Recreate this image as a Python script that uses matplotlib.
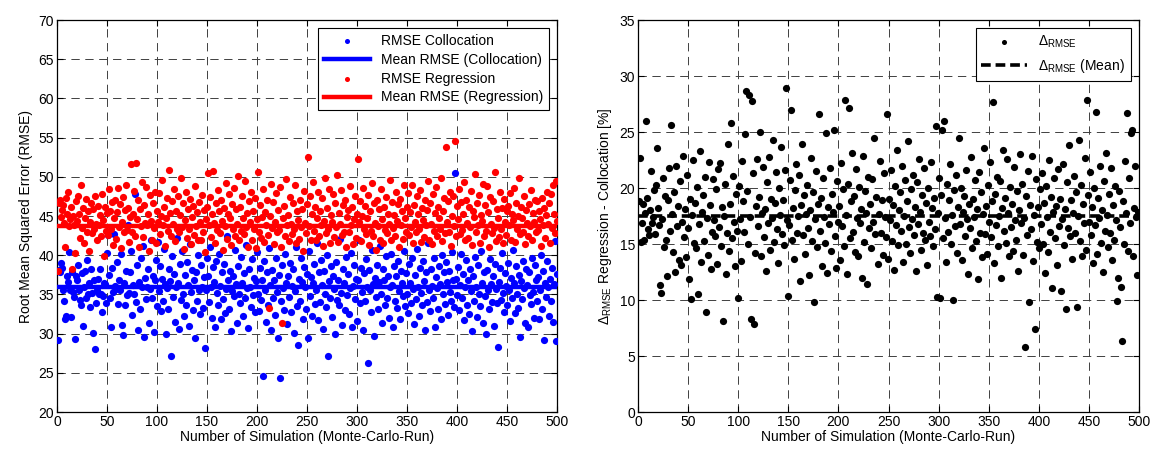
import numpy as np
import matplotlib
matplotlib.use('Agg')
import matplotlib.pyplot as plt

plt.rcParams['font.family'] = ['Liberation Sans', 'DejaVu Sans']
plt.rcParams['font.size'] = 10
plt.rcParams['mathtext.default'] = 'regular'
plt.rcParams['lines.scale_dashes'] = False

# RMSE per Monte-Carlo run (runs 1..500)
rmse_collocation = [
    29.2, 38.1, 37.9, 39.0, 38.4, 35.6, 34.2, 31.8, 32.2, 37.3,
    36.6, 40.4, 35.5, 32.1, 37.8, 35.3, 34.7, 29.3, 37.4, 36.9,
    38.8, 35.6, 34.3, 33.6, 37.7, 31.0, 35.9, 38.0, 34.5, 39.4,
    35.0, 36.4, 33.4, 38.2, 35.2, 30.1, 36.8, 28.1, 33.9, 35.5,
    37.0, 35.1, 38.3, 35.0, 32.7, 34.8, 36.5, 36.3, 33.9, 40.3,
    42.6, 37.5, 34.5, 30.8, 38.4, 35.3, 42.7, 36.1, 35.7, 39.1,
    33.8, 36.8, 35.6, 40.1, 31.1, 29.8, 36.4, 33.6, 38.0, 34.9,
    43.8, 35.2, 37.9, 40.6, 32.4, 36.2, 35.1, 47.8, 34.0, 38.8,
    30.5, 36.6, 33.2, 39.7, 35.9, 41.2, 29.6, 37.1, 34.4, 36.0,
    38.3, 31.4, 35.7, 42.0, 34.6, 37.3, 30.2, 36.9, 39.4, 33.5,
    41.7, 35.4, 38.6, 32.9, 37.0, 34.2, 40.8, 36.3, 29.9, 35.8,
    33.1, 38.2, 36.7, 27.2, 39.9, 34.7, 37.6, 31.5, 35.9, 42.2,
    36.4, 30.6, 38.9, 34.3, 40.5, 35.0, 32.3, 37.5, 33.7, 39.1,
    36.2, 31.0, 41.4, 35.3, 38.1, 33.0, 36.8, 29.4, 37.9, 34.1,
    40.0, 35.6, 32.5, 38.7, 36.0, 33.3, 37.2, 28.2, 35.5, 39.6,
    37.3, 34.0, 41.1, 35.9, 32.0, 38.5, 36.6, 30.9, 39.3, 35.2,
    33.6, 40.2, 36.1, 31.8, 37.8, 34.4, 38.9, 32.6, 35.7, 42.5,
    36.9, 33.2, 38.0, 30.3, 35.4, 37.4, 34.8, 40.7, 36.3, 31.3,
    38.6, 35.1, 33.9, 39.8, 36.5, 32.2, 37.7, 34.6, 41.3, 35.8,
    30.7, 38.2, 36.0, 33.4, 39.5, 34.9, 37.1, 32.8, 36.7, 40.4,
    35.0, 32.9, 38.4, 34.3, 36.8, 24.6, 39.2, 35.6, 31.5, 37.9,
    33.7, 40.9, 36.2, 30.4, 38.1, 34.5, 36.9, 32.4, 39.6, 35.3,
    29.5, 37.5, 24.4, 34.1, 38.8, 35.8, 33.0, 40.1, 36.4, 31.2,
    37.3, 34.7, 39.0, 32.7, 36.1, 38.3, 30.1, 35.4, 41.0, 33.5,
    28.5, 37.0, 34.2, 39.7, 36.6, 31.9, 38.5, 35.9, 33.1, 37.6,
    29.4, 40.6, 34.8, 37.2, 32.3, 36.5, 38.9, 33.8, 35.5, 41.5,
    31.7, 37.8, 34.0, 39.4, 36.2, 30.6, 38.0, 35.1, 33.4, 40.0,
    27.1, 36.7, 34.6, 38.6, 32.1, 37.4, 35.7, 30.0, 39.1, 34.3,
    36.8, 33.6, 42.1, 35.2, 31.1, 38.2, 36.4, 33.0, 39.8, 34.9,
    37.6, 32.5, 35.8, 40.3, 30.8, 36.1, 38.7, 34.4, 37.0, 31.6,
    36.9, 41.9, 33.9, 38.4, 35.3, 30.4, 37.7, 34.2, 39.5, 36.0,
    26.2, 38.1, 35.6, 32.8, 40.7, 36.3, 29.7, 37.1, 34.7, 38.8,
    33.2, 36.6, 41.2, 35.0, 31.4, 38.3, 36.8, 33.7, 39.9, 34.5,
    37.4, 32.0, 35.9, 40.2, 36.2, 30.9, 38.6, 34.1, 37.3, 33.3,
    39.2, 35.4, 31.8, 38.0, 36.5, 34.8, 40.5, 33.5, 37.7, 35.1,
    32.6, 38.9, 36.4, 33.9, 39.6, 35.7, 31.2, 37.5, 34.4, 40.8,
    36.0, 32.2, 38.4, 35.2, 33.6, 39.3, 36.7, 30.5, 37.9, 34.0,
    41.6, 35.5, 32.9, 38.2, 36.1, 34.6, 39.7, 30.8, 37.2, 35.8,
    33.1, 38.6, 36.3, 31.9, 40.0, 35.0, 37.8, 33.8, 39.1, 36.6,
    32.4, 38.0, 35.3, 34.2, 40.4, 36.9, 33.4, 50.5, 37.0, 34.9,
    38.5, 33.0, 36.2, 40.1, 34.5, 37.6, 31.7, 35.9, 39.4, 33.7,
    36.8, 32.5, 38.3, 35.4, 30.3, 37.4, 34.1, 39.8, 36.0, 32.1,
    38.7, 35.1, 33.5, 40.6, 36.5, 31.4, 37.9, 34.8, 29.9, 38.1,
    35.6, 33.2, 39.5, 36.3, 34.0, 37.3, 31.0, 38.9, 35.7, 33.9,
    28.3, 36.6, 38.4, 34.3, 40.3, 35.2, 32.8, 37.7, 36.1, 33.6,
    39.0, 35.5, 31.6, 37.1, 34.6, 40.7, 36.4, 32.6, 38.6, 35.0,
    33.3, 37.5, 29.6, 36.7, 34.4, 39.3, 35.8, 31.3, 38.2, 36.2,
    30.9, 37.8, 34.9, 33.8, 39.6, 35.3, 32.0, 38.8, 36.9, 34.2,
    37.2, 31.9, 35.6, 40.0, 33.1, 38.0, 29.2, 36.5, 34.7, 39.2,
    35.9, 32.3, 37.0, 34.1, 38.4, 31.5, 36.3, 41.8, 29.1, 37.6,
]

rmse_regression = [
    38.0, 46.7, 47.0, 44.9, 45.8, 46.4, 44.1, 41.1, 47.3, 45.2,
    48.0, 43.7, 44.6, 46.2, 38.3, 45.0, 43.9, 40.3, 46.9, 44.4,
    47.6, 45.3, 42.2, 48.9, 43.5, 46.0, 41.5, 44.8, 47.2, 43.0,
    45.6, 40.6, 44.2, 46.6, 42.8, 45.9, 43.3, 47.5, 44.0, 41.9,
    46.3, 43.8, 45.1, 42.4, 47.8, 44.5, 39.9, 46.1, 43.1, 45.4,
    42.6, 48.4, 45.7, 43.4, 46.8, 41.3, 44.7, 47.1, 42.1, 45.5,
    48.6, 43.6, 46.5, 40.9, 44.3, 47.4, 42.9, 45.8, 49.0, 43.2,
    46.0, 41.7, 44.9, 51.6, 43.0, 45.3, 48.2, 42.5, 51.8, 44.6,
    47.0, 41.0, 45.9, 43.7, 49.3, 42.3, 46.4, 44.1, 48.7, 43.9,
    45.2, 40.5, 47.7, 44.4, 42.0, 46.7, 43.5, 48.1, 41.6, 45.6,
    44.2, 47.9, 42.7, 45.0, 49.6, 43.8, 46.2, 41.2, 44.8, 47.3,
    43.1, 50.9, 45.4, 42.4, 46.9, 44.0, 48.5, 41.8, 45.7, 43.3,
    47.6, 42.9, 45.1, 49.8, 43.6, 46.6, 40.8, 44.5, 48.0, 42.2,
    45.9, 43.4, 47.2, 41.4, 44.9, 46.3, 42.6, 48.8, 43.7, 45.5,
    41.9, 46.8, 44.3, 42.0, 47.7, 43.0, 45.8, 40.4, 44.6, 46.1,
    50.5, 43.9, 47.4, 42.3, 45.2, 50.8, 44.1, 41.5, 46.7, 43.2,
    48.3, 45.6, 42.8, 47.0, 44.4, 40.7, 46.0, 43.7, 49.2, 42.1,
    45.3, 47.8, 44.7, 41.3, 46.5, 43.4, 48.6, 42.5, 45.9, 44.0,
    50.1, 41.9, 46.2, 43.1, 47.5, 44.8, 42.7, 49.5, 43.6, 45.4,
    41.1, 46.9, 44.2, 48.0, 42.0, 45.7, 43.3, 47.3, 40.9, 44.6,
    50.6, 43.0, 46.4, 42.2, 44.9, 48.4, 41.7, 45.5, 43.8, 47.1,
    42.6, 33.3, 45.0, 49.1, 43.5, 46.8, 41.4, 44.3, 47.9, 42.9,
    45.8, 43.2, 48.7, 41.0, 31.3, 44.7, 46.3, 42.4, 49.7, 43.9,
    45.1, 41.8, 47.4, 44.0, 42.7, 46.6, 43.4, 48.9, 41.6, 45.6,
    44.5, 42.1, 47.0, 43.6, 45.9, 40.6, 48.2, 44.1, 42.8, 46.5,
    52.5, 43.7, 47.6, 42.0, 45.3, 49.4, 43.1, 46.1, 41.9, 44.8,
    48.1, 42.5, 45.7, 43.9, 47.3, 41.2, 44.4, 49.9, 42.8, 46.0,
    43.3, 48.5, 41.5, 45.1, 44.2, 47.8, 42.3, 46.7, 43.6, 50.2,
    41.7, 45.4, 44.0, 48.3, 42.6, 46.4, 43.0, 47.1, 41.1, 44.9,
    45.8, 42.9, 48.8, 43.8, 46.2, 41.4, 44.6, 47.5, 42.2, 45.2,
    52.3, 44.3, 46.9, 41.8, 45.0, 48.6, 43.4, 46.3, 42.7, 44.7,
    47.7, 41.3, 45.6, 43.1, 49.2, 42.4, 46.6, 44.1, 40.7, 47.0,
    43.7, 45.9, 42.0, 48.4, 44.6, 41.6, 46.1, 43.2, 47.4, 42.8,
    45.3, 44.0, 49.6, 41.9, 46.8, 43.5, 45.1, 42.5, 48.0, 44.4,
    46.5, 41.0, 47.2, 43.9, 45.7, 42.1, 48.9, 44.8, 43.0, 46.2,
    47.9, 42.6, 45.5, 43.6, 49.0, 41.5, 46.4, 44.2, 42.9, 47.6,
    45.2, 43.3, 48.3, 41.7, 46.0, 44.5, 42.3, 47.1, 43.8, 45.8,
    49.5, 42.0, 46.7, 44.0, 41.4, 47.8, 43.1, 45.4, 48.7, 42.5,
    46.2, 44.7, 43.4, 49.8, 41.8, 45.6, 47.3, 42.8, 53.8, 44.3,
    46.9, 43.0, 48.1, 41.2, 45.0, 47.5, 43.7, 54.6, 42.4, 46.3,
    44.6, 48.5, 42.7, 46.8, 43.2, 45.3, 49.3, 41.9, 47.0, 44.1,
    42.2, 46.1, 43.6, 48.2, 41.3, 45.7, 44.9, 50.4, 42.9, 46.6,
    43.9, 47.7, 41.6, 45.1, 44.4, 49.1, 42.5, 46.4, 43.1, 48.8,
    45.5, 41.1, 47.4, 44.0, 42.8, 46.9, 43.5, 50.6, 41.8, 45.9,
    44.7, 42.3, 48.0, 43.3, 46.0, 41.5, 47.2, 44.2, 42.6, 45.6,
    46.3, 43.8, 47.9, 42.0, 45.2, 44.5, 48.6, 41.7, 46.7, 43.4,
    45.0, 49.9, 42.7, 46.1, 44.8, 43.0, 47.6, 41.4, 45.8, 44.1,
    42.4, 46.5, 43.7, 48.3, 41.9, 45.4, 44.3, 47.1, 42.9, 46.9,
    43.2, 45.7, 44.6, 41.2, 47.3, 43.9, 46.0, 42.2, 45.1, 48.0,
    44.0, 46.6, 41.6, 47.8, 43.5, 49.0, 45.3, 42.8, 49.5, 44.4,
]

delta_rmse = [
    18.8, 22.7, 15.2, 16.9, 18.6, 15.4, 17.8, 26.0, 19.1, 16.3,
    15.8, 18.0, 21.5, 16.9, 17.4, 19.8, 15.9, 20.3, 23.6, 18.2,
    16.7, 11.3, 10.6, 17.2, 20.9, 14.7, 19.3, 15.4, 12.1, 18.9,
    21.8, 16.2, 25.6, 17.7, 14.3, 19.6, 12.5, 22.0, 16.6, 18.4,
    13.6, 20.6, 13.1, 17.0, 22.9, 15.6, 18.1, 13.8, 21.2, 16.4,
    11.9, 19.0, 10.1, 17.6, 22.5, 15.1, 18.7, 14.6, 20.1, 10.5,
    16.8, 23.3, 13.4, 17.9, 19.4, 15.3, 21.0, 8.9, 17.3, 14.0,
    22.3, 18.5, 12.8, 16.1, 20.8, 17.1, 15.7, 19.9, 13.2, 21.7,
    16.5, 22.2, 14.8, 18.3, 8.1, 17.5, 20.4, 12.3, 16.0, 23.9,
    14.4, 18.6, 25.8, 15.5, 21.1, 17.0, 13.0, 19.5, 16.2, 10.2,
    20.2, 17.2, 13.5, 22.4, 18.8, 16.1, 24.8, 28.7, 19.7, 15.0,
    28.3, 17.4, 8.3, 27.8, 21.3, 7.9, 14.2, 18.4, 22.6, 16.6,
    19.2, 25.0, 13.9, 17.8, 21.9, 15.6, 18.1, 12.6, 20.5, 16.9,
    22.8, 14.5, 19.0, 17.3, 24.3, 15.2, 18.7, 21.4, 16.3, 13.3,
    20.0, 17.6, 23.7, 15.9, 18.9, 14.9, 21.6, 28.9, 17.1, 10.4,
    16.7, 20.7, 27.0, 15.4, 18.2, 13.7, 19.8, 22.1, 16.0, 17.5,
    21.2, 11.7, 18.5, 23.9, 15.8, 19.4, 14.1, 17.7, 20.3, 16.4,
    12.2, 18.0, 22.7, 15.3, 19.6, 9.8, 17.2, 21.5, 14.7, 18.6,
    26.6, 16.2, 19.1, 13.0, 20.9, 17.4, 15.1, 24.9, 12.4, 18.3,
    16.8, 21.8, 14.4, 19.5, 17.9, 25.2, 15.7, 12.9, 20.6, 17.0,
    18.4, 13.6, 22.2, 16.6, 19.9, 14.8, 27.9, 17.6, 12.3, 20.4,
    27.1, 15.5, 18.8, 23.1, 16.1, 19.3, 14.3, 21.7, 17.3, 13.9,
    20.1, 16.9, 18.1, 12.0, 22.9, 15.2, 19.7, 17.8, 11.4, 21.0,
    16.4, 18.6, 14.6, 20.8, 17.0, 24.5, 15.9, 19.2, 13.2, 17.7,
    22.4, 16.0, 18.9, 14.0, 21.3, 17.4, 15.6, 26.6, 13.7, 19.0,
    17.1, 21.6, 15.3, 18.5, 12.7, 20.2, 16.7, 23.4, 14.9, 18.0,
    19.6, 16.2, 22.0, 13.4, 17.5, 20.7, 15.0, 18.8, 24.2, 16.5,
    14.2, 19.9, 17.2, 21.2, 15.8, 18.3, 12.6, 20.5, 16.8, 22.6,
    17.9, 14.5, 19.4, 16.0, 21.8, 15.4, 18.7, 13.1, 20.0, 17.0,
    15.7, 22.3, 18.2, 14.8, 19.1, 16.3, 25.5, 10.3, 17.8, 20.9,
    10.2, 19.4, 25.2, 15.5, 26.0, 17.3, 13.4, 20.4, 16.1, 18.9,
    22.1, 15.0, 17.6, 10.0, 19.8, 16.6, 21.2, 14.2, 18.3, 24.5,
    16.8, 20.0, 13.6, 17.9, 19.3, 15.7, 21.6, 17.2, 12.3, 18.6,
    16.4, 22.8, 14.6, 19.0, 17.4, 20.7, 15.3, 18.1, 11.9, 21.4,
    16.0, 19.6, 13.8, 17.7, 23.6, 15.9, 18.4, 14.1, 20.3, 17.0,
    22.3, 15.6, 18.8, 27.7, 13.3, 19.5, 16.7, 21.0, 14.8, 17.5,
    20.6, 12.0, 18.2, 23.4, 16.2, 19.1, 15.1, 22.6, 17.8, 13.9,
    20.1, 16.5, 18.6, 14.4, 21.9, 17.1, 15.4, 19.7, 12.6, 18.0,
    23.0, 16.9, 20.4, 14.0, 17.3, 5.8, 19.3, 15.8, 21.5, 9.8,
    18.5, 16.3, 22.9, 13.5, 17.6, 7.4, 20.8, 15.2, 18.3, 14.6,
    19.9, 16.8, 21.3, 15.0, 18.7, 12.4, 20.2, 17.4, 14.3, 22.5,
    16.1, 19.2, 11.1, 17.9, 20.9, 15.5, 18.4, 13.1, 21.7, 16.6,
    19.0, 10.8, 17.2, 22.1, 14.9, 18.1, 9.2, 20.5, 16.4, 23.8,
    15.7, 18.9, 13.7, 17.8, 21.1, 16.0, 19.6, 9.4, 17.5, 24.3,
    15.3, 20.3, 13.9, 18.6, 16.9, 22.7, 14.5, 27.9, 19.4, 17.0,
    21.4, 15.8, 18.3, 13.3, 20.0, 16.7, 26.8, 14.1, 19.1, 17.3,
    22.0, 15.1, 18.0, 12.5, 20.6, 16.2, 23.1, 17.6, 14.7, 19.5,
    16.0, 21.8, 13.6, 18.5, 15.4, 20.2, 17.1, 9.9, 12.0, 19.7,
    16.5, 11.2, 6.3, 18.8, 15.0, 22.4, 17.8, 26.7, 14.4, 20.9,
    16.9, 24.9, 25.2, 13.9, 18.2, 22.0, 17.4, 12.2, 17.9, 17.6,
]

# mean levels
mean_collocation = 36.0
mean_regression = 43.7
mean_delta = 17.5

runs = np.arange(1, len(rmse_collocation) + 1)
x_ticks = np.arange(0, 501, 50)


def matlab_axes(ax, yticks):
    ax.set_xlim(0, 500)
    ax.set_xticks(x_ticks)
    ax.set_ylim(yticks[0], yticks[-1])
    ax.set_yticks(yticks)
    ax.grid(True, color='0.25', linestyle=(0, (6, 4)), linewidth=0.7)
    ax.set_axisbelow(True)
    ax.tick_params(direction='in', top=True, right=True, length=4, width=0.8, labelsize=10, pad=2)
    for s in ax.spines.values():
        s.set_linewidth(0.9)


fig = plt.figure(figsize=(11.54, 4.53), dpi=100)

# left: RMSE of both methods
ax1 = fig.add_axes([0.0494, 0.0905, 0.4333, 0.8653])
ax1.scatter(runs, rmse_collocation, s=27, color='#0000ff', linewidths=0, label='RMSE Collocation', zorder=3)
ax1.axhline(mean_collocation, color='#0000ff', linewidth=3.2, label='Mean RMSE (Collocation)', zorder=3)
ax1.scatter(runs, rmse_regression, s=27, color='#ff0000', linewidths=0, label='RMSE Regression', zorder=3)
ax1.axhline(mean_regression, color='#ff0000', linewidth=3.2, label='Mean RMSE (Regression)', zorder=3)
matlab_axes(ax1, np.arange(20, 71, 5))
ax1.set_xlabel('Number of Simulation (Monte-Carlo-Run)', labelpad=1)
ax1.set_ylabel('Root Mean Squared Error (RMSE)', labelpad=4)
leg = ax1.legend(loc='upper right', fancybox=False, framealpha=1, edgecolor='black',
                 handlelength=3.3, borderaxespad=0.6, labelspacing=0.35, fontsize=10,
                 markerscale=0.7)
leg.get_frame().set_linewidth(0.8)

# right: relative difference
ax2 = fig.add_axes([0.5529, 0.0905, 0.4341, 0.8653])
ax2.scatter(runs, delta_rmse, s=27, color='black', linewidths=0, label=r'$\Delta_{RMSE}$', zorder=3)
ax2.axhline(mean_delta, color='black', linewidth=2.6, linestyle=(0, (7, 3.5)),
            label=r'$\Delta_{RMSE}$ (Mean)', zorder=3)
matlab_axes(ax2, np.arange(0, 36, 5))
ax2.set_xlabel('Number of Simulation (Monte-Carlo-Run)', labelpad=1)
ax2.set_ylabel(r'$\Delta_{RMSE}$ Regression - Collocation [%]', labelpad=4)
leg2 = ax2.legend(loc='upper right', fancybox=False, framealpha=1, edgecolor='black',
                  handlelength=3.3, borderaxespad=0.6, labelspacing=0.5, fontsize=10,
                  markerscale=0.7)
leg2.get_frame().set_linewidth(0.8)

fig.savefig('out.png', dpi=100)
plt.close(fig)
